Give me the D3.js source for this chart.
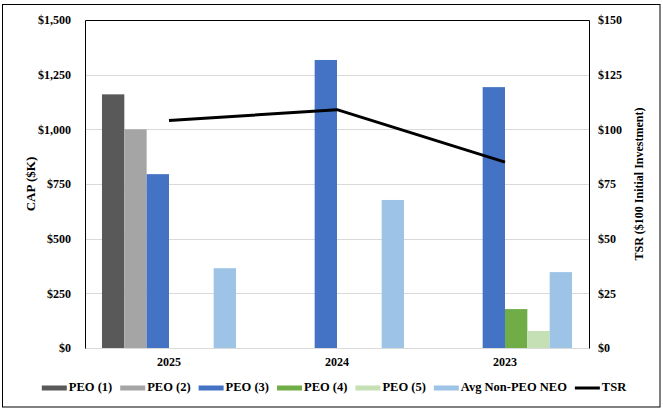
<!DOCTYPE html>
<html>
<head>
<meta charset="utf-8">
<script src="https://cdn.jsdelivr.net/npm/d3@7"></script>
<style>
  html, body { margin: 0; padding: 0; background: #fff; }
  svg text { font-family: "Liberation Serif", "Times New Roman", Tinos, "DejaVu Serif", serif !important; font-weight: bold; fill: #000; }
</style>
</head>
<body>
<svg id="chart" width="663" height="411"></svg>
<script>
const categories = ["2025", "2024", "2023"];
const seriesNames = ["PEO (1)", "PEO (2)", "PEO (3)", "PEO (4)", "PEO (5)", "Avg Non-PEO NEO"];
const seriesColors = ["#595959", "#A5A5A5", "#4472C4", "#70AD47", "#C5E0B4", "#9DC3E6"];
const peo1 = [1160, null, null];
const peo2 = [1000, null, null];
const peo3 = [795, 1317, 1193];
const peo4 = [null, null, 178];
const peo5 = [null, null, 78];
const avgNonPeo = [365, 677, 347];
const tsr = [104, 109, 85];
const leftTicks = [0, 250, 500, 750, 1000, 1250, 1500];
const rightTicks = [0, 25, 50, 75, 100, 125, 150];

const seriesValues = [peo1, peo2, peo3, peo4, peo5, avgNonPeo];

const svg = d3.select("#chart");
const plot = { left: 85, right: 589, top: 20, bottom: 348 };

// outer border
svg.append("rect").attr("x", 2.5).attr("y", 4.5).attr("width", 657.5).attr("height", 402.5)
  .attr("fill", "#fff").attr("stroke", "#000").attr("stroke-width", 1);

const x0 = d3.scaleBand().domain(categories).range([plot.left, plot.right]).paddingInner(0).paddingOuter(0);
const x1 = d3.scaleBand().domain(seriesNames).range([0, x0.bandwidth()]).paddingInner(0).paddingOuter(0.76);
const yL = d3.scaleLinear().domain([0, 1500]).range([plot.bottom, plot.top]);
const yR = d3.scaleLinear().domain([0, 150]).range([plot.bottom, plot.top]);

// gridlines
svg.append("g").selectAll("line").data(leftTicks.filter(d => d > 0 && d < 1500)).join("line")
  .attr("x1", plot.left).attr("x2", plot.right)
  .attr("y1", d => Math.round(yL(d)) + 0.5).attr("y2", d => Math.round(yL(d)) + 0.5)
  .attr("stroke", "#D9D9D9").attr("stroke-width", 1);
svg.append("line").attr("x1", plot.left).attr("x2", plot.right)
  .attr("y1", plot.bottom + 0.5).attr("y2", plot.bottom + 0.5)
  .attr("stroke", "#D9D9D9").attr("stroke-width", 1);

// bars
const barData = [];
categories.forEach((c, ci) => {
  seriesNames.forEach((s, si) => {
    const v = seriesValues[si][ci];
    if (v != null) barData.push({ c, s, v, color: seriesColors[si] });
  });
});
svg.append("g").selectAll("rect").data(barData).join("rect")
  .attr("x", d => x0(d.c) + x1(d.s))
  .attr("width", x1.bandwidth())
  .attr("y", d => yL(d.v))
  .attr("height", d => yL(0) - yL(d.v))
  .attr("fill", d => d.color);

// plot border: top, left, right black
svg.append("path")
  .attr("d", `M${plot.left + 0.5},${plot.bottom + 0.5} V${plot.top + 0.5} H${plot.right + 0.5} V${plot.bottom + 0.5}`)
  .attr("fill", "none").attr("stroke", "#000").attr("stroke-width", 1);

// TSR line
const line = d3.line().x((d, i) => x0(categories[i]) + x0.bandwidth() / 2).y(d => yR(d));
svg.append("path").datum(tsr).attr("d", line)
  .attr("fill", "none").attr("stroke", "#000").attr("stroke-width", 3).attr("stroke-linejoin", "round");

// left axis
const axL = svg.append("g").attr("transform", `translate(${plot.left},0)`)
  .call(d3.axisLeft(yL).tickValues(leftTicks).tickSize(0).tickPadding(14)
    .tickFormat(d => "$" + d3.format(",")(d)));
axL.select(".domain").remove();
axL.attr("font-family", null);
axL.selectAll("text").style("font-size", "12px").attr("fill", "#000");

// right axis
const axR = svg.append("g").attr("transform", `translate(${plot.right},0)`)
  .call(d3.axisRight(yR).tickValues(rightTicks).tickSize(0).tickPadding(9)
    .tickFormat(d => "$" + d));
axR.select(".domain").remove();
axR.attr("font-family", null);
axR.selectAll("text").style("font-size", "12px").attr("fill", "#000");

// category axis
const axB = svg.append("g").attr("transform", `translate(0,${plot.bottom})`)
  .call(d3.axisBottom(x0).tickSize(0).tickPadding(9));
axB.select(".domain").remove();
axB.attr("font-family", null);
axB.selectAll("text").style("font-size", "12px").attr("fill", "#000");

// axis titles
const midY = (plot.top + plot.bottom) / 2;
svg.append("text").attr("transform", `translate(32,${midY}) rotate(-90)`)
  .attr("text-anchor", "middle").attr("dominant-baseline", "middle")
  .style("font-size", "13px").text("CAP ($K)");
svg.append("text").attr("transform", `translate(640,${midY}) rotate(-90)`)
  .attr("text-anchor", "middle").attr("dominant-baseline", "middle")
  .style("font-size", "12px").text("TSR ($100 Initial Investment)");

// legend
const legendItems = seriesNames.map((s, i) => ({ name: s, color: seriesColors[i], type: "bar" }))
  .concat([{ name: "TSR", color: "#000", type: "line" }]);
const legend = svg.append("g");
const swW = 25, swGap = 2, itemGap = 8, legY = 388;
let xPos = 0;
legendItems.forEach(it => {
  const g = legend.append("g").attr("transform", `translate(${xPos},0)`);
  if (it.type === "bar") {
    g.append("rect").attr("x", 0).attr("y", legY - 2.5).attr("width", swW).attr("height", 5).attr("fill", it.color);
  } else {
    g.append("line").attr("x1", 0).attr("x2", swW).attr("y1", legY).attr("y2", legY)
      .attr("stroke", it.color).attr("stroke-width", 3);
  }
  const t = g.append("text").attr("x", swW + swGap).attr("y", legY).attr("dominant-baseline", "middle")
    .style("font-size", "12.5px").text(it.name);
  xPos += swW + swGap + t.node().getComputedTextLength() + itemGap;
});
const totalW = xPos - itemGap;
legend.attr("transform", `translate(${334 - totalW / 2},0)`);
</script>
</body>
</html>
